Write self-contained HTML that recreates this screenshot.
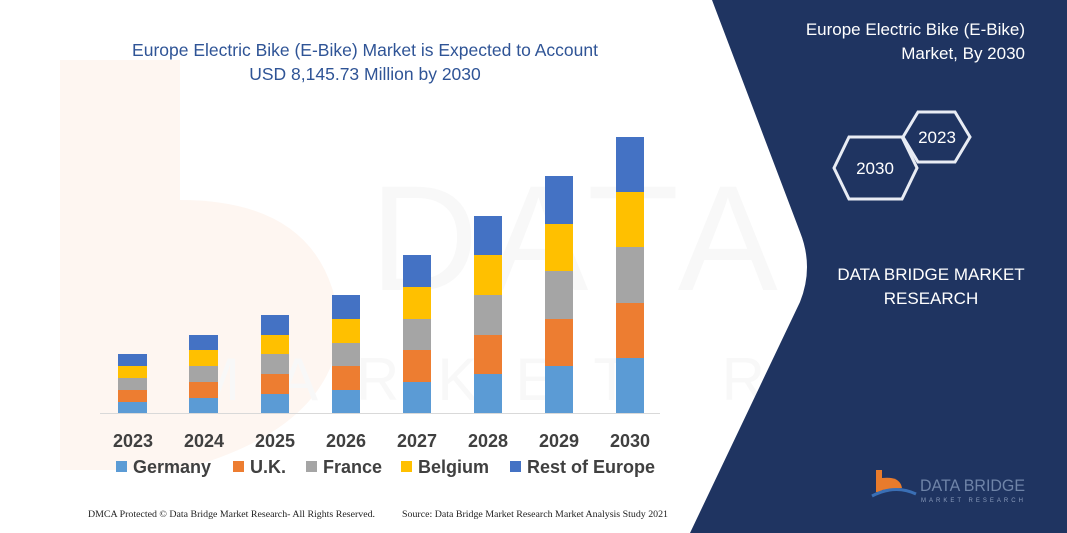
<!DOCTYPE html>
<html><head><meta charset="utf-8"><style>
html,body{margin:0;padding:0;width:1067px;height:533px;overflow:hidden;background:#fff}
svg{display:block}
</style></head><body>
<svg width="1067" height="533" viewBox="0 0 1067 533" xmlns="http://www.w3.org/2000/svg" font-family="'Liberation Sans', sans-serif">
<rect width="1067" height="533" fill="#fff"/>
<!-- faint watermark -->
<path d="M60,60 L180,60 L180,470 L60,470 Z" fill="#fef6f1"/>
<path d="M180,200 Q330,200 340,330 Q330,430 180,470 Z" fill="#fef6f1"/>
<text x="370" y="290" font-size="150" fill="#f8f8f8" letter-spacing="10">DATA BRIDGE</text>
<text x="190" y="400" font-size="60" fill="#f8f8f8" letter-spacing="38">MARKET RESEARCH</text>
<!-- navy panel -->
<path d="M712,0 L800,232 Q814,267 800,302 L690,533 L1067,533 L1067,0 Z" fill="#1f3461"/>
<!-- title -->
<text x="365" y="56" font-size="17.5" fill="#2f5496" text-anchor="middle">Europe Electric Bike (E-Bike) Market is Expected to Account</text>
<text x="365" y="80" font-size="17.5" fill="#2f5496" text-anchor="middle">USD 8,145.73 Million by 2030</text>
<!-- bars -->
<g>
<rect x="118" y="402" width="29" height="11" fill="#5b9bd5"/><rect x="118" y="390" width="29" height="12" fill="#ed7d31"/><rect x="118" y="378" width="29" height="12" fill="#a5a5a5"/><rect x="118" y="366" width="29" height="12" fill="#ffc000"/><rect x="118" y="354" width="29" height="12" fill="#4472c4"/>
<rect x="189" y="398" width="29" height="15" fill="#5b9bd5"/><rect x="189" y="382" width="29" height="16" fill="#ed7d31"/><rect x="189" y="366" width="29" height="16" fill="#a5a5a5"/><rect x="189" y="350" width="29" height="16" fill="#ffc000"/><rect x="189" y="335" width="29" height="15" fill="#4472c4"/>
<rect x="261" y="394" width="28" height="19" fill="#5b9bd5"/><rect x="261" y="374" width="28" height="20" fill="#ed7d31"/><rect x="261" y="354" width="28" height="20" fill="#a5a5a5"/><rect x="261" y="335" width="28" height="19" fill="#ffc000"/><rect x="261" y="315" width="28" height="20" fill="#4472c4"/>
<rect x="332" y="390" width="28" height="23" fill="#5b9bd5"/><rect x="332" y="366" width="28" height="24" fill="#ed7d31"/><rect x="332" y="343" width="28" height="23" fill="#a5a5a5"/><rect x="332" y="319" width="28" height="24" fill="#ffc000"/><rect x="332" y="295" width="28" height="24" fill="#4472c4"/>
<rect x="403" y="382" width="28" height="31" fill="#5b9bd5"/><rect x="403" y="350" width="28" height="32" fill="#ed7d31"/><rect x="403" y="319" width="28" height="31" fill="#a5a5a5"/><rect x="403" y="287" width="28" height="32" fill="#ffc000"/><rect x="403" y="255" width="28" height="32" fill="#4472c4"/>
<rect x="474" y="374" width="28" height="39" fill="#5b9bd5"/><rect x="474" y="335" width="28" height="39" fill="#ed7d31"/><rect x="474" y="295" width="28" height="40" fill="#a5a5a5"/><rect x="474" y="255" width="28" height="40" fill="#ffc000"/><rect x="474" y="216" width="28" height="39" fill="#4472c4"/>
<rect x="545" y="366" width="28" height="47" fill="#5b9bd5"/><rect x="545" y="319" width="28" height="47" fill="#ed7d31"/><rect x="545" y="271" width="28" height="48" fill="#a5a5a5"/><rect x="545" y="224" width="28" height="47" fill="#ffc000"/><rect x="545" y="176" width="28" height="48" fill="#4472c4"/>
<rect x="616" y="358" width="28" height="55" fill="#5b9bd5"/><rect x="616" y="303" width="28" height="55" fill="#ed7d31"/><rect x="616" y="247" width="28" height="56" fill="#a5a5a5"/><rect x="616" y="192" width="28" height="55" fill="#ffc000"/><rect x="616" y="137" width="28" height="55" fill="#4472c4"/>
</g>
<line x1="100" y1="413.5" x2="660" y2="413.5" stroke="#d9d9d9" stroke-width="1"/>
<!-- years -->
<g font-size="18" font-weight="bold" fill="#404040" text-anchor="middle">
<text x="133" y="447">2023</text><text x="204" y="447">2024</text><text x="275" y="447">2025</text><text x="346" y="447">2026</text><text x="417" y="447">2027</text><text x="488" y="447">2028</text><text x="559" y="447">2029</text><text x="630" y="447">2030</text>
</g>
<!-- legend -->
<g font-size="18" font-weight="bold" fill="#404040">
<rect x="116" y="461" width="11" height="11" fill="#5b9bd5"/><text x="133" y="473">Germany</text>
<rect x="233" y="461" width="11" height="11" fill="#ed7d31"/><text x="250" y="473">U.K.</text>
<rect x="306" y="461" width="11" height="11" fill="#a5a5a5"/><text x="323" y="473">France</text>
<rect x="401" y="461" width="11" height="11" fill="#ffc000"/><text x="418" y="473">Belgium</text>
<rect x="510" y="461" width="11" height="11" fill="#4472c4"/><text x="527" y="473">Rest of Europe</text>
</g>
<g font-family="'Liberation Serif', serif" font-size="9" fill="#222">
<text x="88" y="517" textLength="287" lengthAdjust="spacingAndGlyphs">DMCA Protected © Data Bridge Market Research-  All Rights Reserved.</text>
<text x="402" y="517" textLength="266" lengthAdjust="spacingAndGlyphs">Source: Data Bridge Market Research  Market Analysis Study 2021</text>
</g>
<!-- right panel texts -->
<g fill="#fff" font-size="17">
<text x="1025" y="35" text-anchor="end">Europe Electric Bike (E-Bike)</text>
<text x="1025" y="59" text-anchor="end">Market, By 2030</text>
<text x="931" y="280" text-anchor="middle">DATA BRIDGE MARKET</text>
<text x="931" y="304" text-anchor="middle">RESEARCH</text>
</g>
<!-- hexagons -->
<g fill="none" stroke="#e8ecf4" stroke-width="3">
<polygon points="918,112 955,112 970,137 955,162 918,162 903,137"/>
<polygon points="849,137 902,137 917,168 902,199 849,199 834,168"/>
</g>
<g fill="#fff" font-size="17" text-anchor="middle">
<text x="937" y="143">2023</text>
<text x="875" y="174">2030</text>
</g>
<!-- logo -->
<g>
<rect x="876" y="470" width="6" height="22" fill="#e87b2c"/>
<path d="M882,478 Q900,476 902,488 L882,490 Z" fill="#e87b2c"/>
<path d="M872,496 Q895,484 916,494" stroke="#3a6fb5" stroke-width="3" fill="none"/>
<text x="920" y="491" font-size="17" fill="#6f84a8" textLength="105" lengthAdjust="spacingAndGlyphs">DATA BRIDGE</text>
<text x="921" y="502" font-size="6" fill="#8a9bbb" letter-spacing="3">MARKET RESEARCH</text>
</g>
</svg>
</body></html>
